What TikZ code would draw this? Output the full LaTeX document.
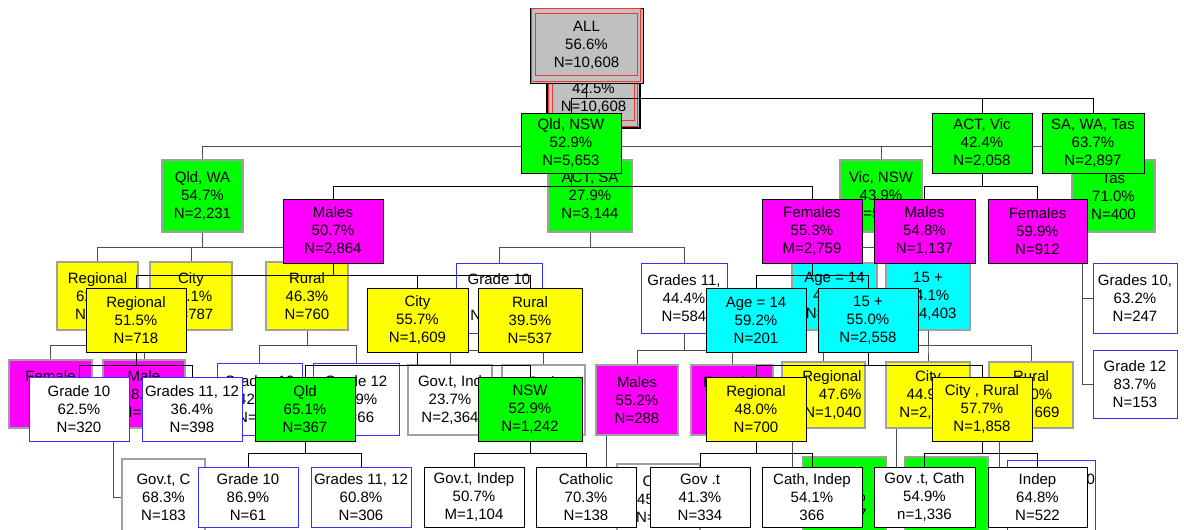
\documentclass[tikz,border=0pt]{standalone}
\usepackage{fontspec}
\setmainfont{Liberation Sans}
\usepackage{tikz}
\usepackage{xcolor}
\usetikzlibrary{calc}
\definecolor{treegreen}{HTML}{00FF00}
\definecolor{treemagenta}{HTML}{FF00FF}
\definecolor{treeyellow}{HTML}{FFFF00}
\definecolor{treecyan}{HTML}{00FFFF}
\definecolor{treegray}{HTML}{C0C0C0}
\definecolor{treeblue}{HTML}{3333FF}
\definecolor{treered}{HTML}{FF3030}
\definecolor{oldedge}{HTML}{A0A0A0}
\tikzset{
  treebox/.style={rectangle, inner sep=0pt, align=center, font=\fontsize{15}{18}\selectfont},
  oldbox/.style={treebox, draw=oldedge, line width=1.4pt},
  oldplain/.style={oldbox, fill=white},
  oldgrade/.style={treebox, draw=treeblue, line width=0.9pt, fill=white},
  newbox/.style={treebox, draw=black, line width=0.9pt},
  gradebox/.style={treebox, draw=treeblue, line width=0.9pt, fill=white},
  oldlink/.style={black!70, line width=0.9pt},
  newlink/.style={black, line width=0.9pt}
}
\newcommand\TreeBox[7]{%
\node[#1, minimum width={#5-#3}, minimum height={#6-#4}] (#2) at ({(#3+#5)/2},{(#4+#6)/2}) {#7};
}
\newcommand\Branch[4]{%
\foreach \kid in {#4} {\draw[#1] (#2.south) -- ++(0,#3) -| (\kid.north);}
}
\newcommand\SideBranch[3]{%
\foreach \kid in {#3} {\draw[#1] ($(#2.south west)+(11,0)$) |- (\kid.west);}
}
\newcommand\RedFrame[1]{%
\draw[treered, line width=0.9pt] ($(#1.north west)+(2,1)$) rectangle ($(#1.south east)+(-3,-2)$);
\draw[treered, line width=0.9pt] ($(#1.north west)+(6,6)$) rectangle ($(#1.south east)+(-6,-8)$);
}

\begin{document}
\begin{tikzpicture}[x=1pt, y=-1pt]
  \useasboundingbox (0,0) rectangle (1184,530);

  % earlier tree, left behind
  \TreeBox{oldbox, fill=treegray, draw=black}{oldall}{547}{50}{640}{128}{ALL\\42.5\%\\N=10,608}
  \RedFrame{oldall}

  \TreeBox{oldbox, fill=treegreen}{oldqw}{162}{160}{243}{232}{Qld, WA\\54.7\%\\N=2,231}
  \TreeBox{oldbox, fill=treegreen}{oldas}{548}{160}{632}{232}{ACT, SA\\27.9\%\\N=3,144}
  \TreeBox{oldbox, fill=treegreen}{oldvn}{840}{160}{922}{232}{Vic, NSW\\43.9\%\\N=5,564}
  \TreeBox{oldbox, fill=treegreen}{oldtas}{1072}{160}{1155}{232}{Tas\\71.0\%\\N=400}

  \TreeBox{oldbox, fill=treeyellow}{oldreg}{57}{262}{138}{330}{Regional\\62.0\%\\N=684}
  \TreeBox{oldbox, fill=treeyellow}{oldcity}{150}{262}{232}{330}{City\\53.1\%\\N=787}
  \TreeBox{oldbox, fill=treeyellow}{oldrural}{266}{262}{348}{330}{Rural\\46.3\%\\N=760}
  \TreeBox{oldgrade}{oldgten}{456}{263}{542}{333}{Grade 10\\24.1\%\\N=2,560}
  \TreeBox{oldgrade}{oldgelev}{641}{263}{727}{333}{Grades 11,\\44.4\%\\N=584}
  \TreeBox{oldbox, fill=treecyan}{oldage}{792}{263}{877}{330}{Age = 14\\41.6\%\\N=1,161}
  \TreeBox{oldbox, fill=treecyan}{oldfifteen}{886}{263}{970}{330}{15 +\\54.1\%\\N=4,403}
  \TreeBox{oldgrade}{oldtasten}{1093}{263}{1177}{333}{Grades 10,\\63.2\%\\N=247}
  \TreeBox{oldgrade}{oldtastwelve}{1093}{350}{1177}{418}{Grade 12\\83.7\%\\N=153}

  \TreeBox{oldbox, fill=treemagenta}{oldfem}{9}{360}{92}{428}{Female\\67.8\%\\N=304}
  \TreeBox{oldbox, fill=treemagenta}{oldmale}{103}{360}{185}{428}{Male\\58.4\%\\N=380}
  \TreeBox{oldgrade}{oldrten}{217}{363}{302}{435}{Grades 10\\42.2\%\\N=694}
  \TreeBox{oldgrade}{oldrtwelve}{313}{363}{399}{435}{Grade 12\\89.9\%\\N=66}
  \TreeBox{oldplain}{oldgovind}{408}{365}{492}{435}{Gov.t, Ind\\23.7\%\\N=2,364}
  \TreeBox{oldplain}{oldcath}{502}{365}{585}{435}{Cath\\28.9\%\\N=196}
  \TreeBox{oldbox, fill=treemagenta}{oldmales}{596}{365}{678}{435}{Males\\55.2\%\\N=288}
  \TreeBox{oldbox, fill=treemagenta}{oldfemales}{691}{365}{773}{435}{Females\\33.9\%\\N=296}
  \TreeBox{oldbox, fill=treeyellow, text width=76pt, align=right}{oldregtwo}{782}{362}{865}{428}{Regional\\47.6\%\\N=1,040}
  \TreeBox{oldbox, fill=treeyellow}{oldcitytwo}{886}{362}{970}{428}{City\\44.9\%\\N=2,694}
  \TreeBox{oldbox, fill=treeyellow}{oldruraltwo}{989}{362}{1073}{428}{Rural\\61.0\%\\N=1,669}

  \TreeBox{oldplain}{oldgovc}{122}{459}{205}{535}{Gov.t, C\\68.3\%\\N=183}
  \TreeBox{oldplain}{oldcathtwo}{617}{464}{700}{535}{Cath\\45.5\%\\N=101}
  \TreeBox{oldbox, fill=treegreen}{oldvicone}{803}{457}{886}{535}{Vic\\53.6\%\\N=347}
  \TreeBox{oldbox, fill=treegreen}{oldvictwo}{905}{457}{988}{535}{Vic\\48.3\%\\N=1,213}
  \TreeBox{oldgrade}{oldrtentwo}{1009}{460}{1093}{535}{\hspace*{18pt}Grades 10\\71.4\%\\N=702}

  \Branch{oldlink}{oldall}{18}{oldqw, oldas, oldvn, oldtas}
  \Branch{oldlink}{oldqw}{15}{oldreg, oldcity, oldrural}
  \Branch{oldlink}{oldas}{15}{oldgten, oldgelev}
  \Branch{oldlink}{oldvn}{15}{oldage, oldfifteen}
  \Branch{oldlink}{oldreg}{15}{oldfem, oldmale}
  \Branch{oldlink}{oldrural}{15}{oldrten, oldrtwelve}
  \Branch{oldlink}{oldgten}{17}{oldgovind, oldcath}
  \Branch{oldlink}{oldgelev}{17}{oldmales, oldfemales}
  \Branch{oldlink}{oldfifteen}{15}{oldregtwo, oldcitytwo, oldruraltwo}
  \SideBranch{oldlink}{oldtas}{oldtasten, oldtastwelve}
  \SideBranch{oldlink}{oldmale}{oldgovc}
  \SideBranch{oldlink}{oldmales}{oldcathtwo}
  \SideBranch{oldlink}{oldregtwo}{oldvicone}
  \SideBranch{oldlink}{oldcitytwo}{oldvictwo}
  \SideBranch{oldlink}{oldruraltwo}{oldrtentwo}

  % current tree
  \TreeBox{newbox, fill=treegray}{all}{530}{8}{643}{83}{ALL\\56.6\%\\N=10,608}
  \RedFrame{all}

  \TreeBox{newbox, fill=treegreen}{qldnsw}{521}{113}{621}{173}{Qld, NSW\\52.9\%\\N=5,653}
  \TreeBox{newbox, fill=treegreen}{actvic}{932}{113}{1032}{173}{ACT, Vic\\42.4\%\\N=2,058}
  \TreeBox{newbox, fill=treegreen}{sawatas}{1042}{113}{1144}{173}{SA, WA, Tas\\63.7\%\\N=2,897}

  \TreeBox{newbox, fill=treemagenta}{qnmales}{283}{199}{383}{263}{Males\\50.7\%\\N=2,864}
  \TreeBox{newbox, fill=treemagenta}{qnfemales}{762}{199}{862}{263}{Females\\55.3\%\\M=2,759}
  \TreeBox{newbox, fill=treemagenta}{avmales}{874}{199}{975}{263}{Males\\54.8\%\\N=1,137}
  \TreeBox{newbox, fill=treemagenta}{avfemales}{988}{199}{1087}{263}{Females\\59.9\%\\N=912}

  \TreeBox{newbox, fill=treeyellow}{mregional}{86}{288}{186}{352}{Regional\\51.5\%\\N=718}
  \TreeBox{newbox, fill=treeyellow}{mcity}{367}{288}{468}{352}{City\\55.7\%\\N=1,609}
  \TreeBox{newbox, fill=treeyellow}{mrural}{478}{288}{582}{352}{Rural\\39.5\%\\N=537}
  \TreeBox{newbox, fill=treecyan}{fage}{706}{288}{806}{352}{Age = 14\\59.2\%\\N=201}
  \TreeBox{newbox, fill=treecyan}{ffifteen}{818}{288}{918}{352}{15 +\\55.0\%\\N=2,558}

  \TreeBox{gradebox}{rgten}{29}{377}{129}{441}{Grade 10\\62.5\%\\N=320}
  \TreeBox{gradebox}{rgeleven}{142}{377}{242}{441}{Grades 11, 12\\36.4\%\\N=398}
  \TreeBox{newbox, fill=treegreen}{cqld}{255}{377}{355}{441}{Qld\\65.1\%\\N=367}
  \TreeBox{newbox, fill=treegreen}{cnsw}{478}{377}{582}{441}{NSW\\52.9\%\\N=1,242}
  \TreeBox{newbox, fill=treeyellow}{fregional}{706}{377}{806}{441}{Regional\\48.0\%\\N=700}
  \TreeBox{newbox, fill=treeyellow}{fcityrural}{932}{377}{1032}{441}{City , Rural\\57.7\%\\N=1,858}

  \TreeBox{gradebox}{qgten}{198}{467}{298}{527}{Grade 10\\86.9\%\\N=61}
  \TreeBox{gradebox}{qgeleven}{311}{467}{411}{527}{Grades 11, 12\\60.8\%\\N=306}
  \TreeBox{newbox, fill=white}{ngovind}{424}{467}{524}{527}{Gov.t, Indep\\50.7\%\\M=1,104}
  \TreeBox{newbox, fill=white}{ncath}{536}{467}{636}{527}{Catholic\\70.3\%\\N=138}
  \TreeBox{newbox, fill=white}{rgov}{650}{467}{750}{527}{Gov .t\\41.3\%\\N=334}
  \TreeBox{newbox, fill=white}{rcathind}{762}{467}{862}{527}{Cath, Indep\\54.1\%\\366}
  \TreeBox{newbox, fill=white}{crgovcath}{874}{467}{975}{527}{Gov .t, Cath\\54.9\%\\n=1,336}
  \TreeBox{newbox, fill=white}{crindep}{988}{467}{1087}{527}{Indep\\64.8\%\\N=522}

  \Branch{newlink}{all}{15}{qldnsw, actvic, sawatas}
  \Branch{newlink}{qldnsw}{13}{qnmales, qnfemales}
  \Branch{newlink}{actvic}{13}{avmales, avfemales}
  \Branch{newlink}{qnmales}{12}{mregional, mcity, mrural}
  \Branch{newlink}{qnfemales}{12}{fage, ffifteen}
  \Branch{newlink}{mregional}{13}{rgten, rgeleven}
  \Branch{newlink}{mcity}{13}{cqld, cnsw}
  \Branch{newlink}{ffifteen}{13}{fregional, fcityrural}
  \Branch{newlink}{cqld}{12}{qgten, qgeleven}
  \Branch{newlink}{cnsw}{12}{ngovind, ncath}
  \Branch{newlink}{fregional}{12}{rgov, rcathind}
  \Branch{newlink}{fcityrural}{12}{crgovcath, crindep}
\end{tikzpicture}
\end{document}
